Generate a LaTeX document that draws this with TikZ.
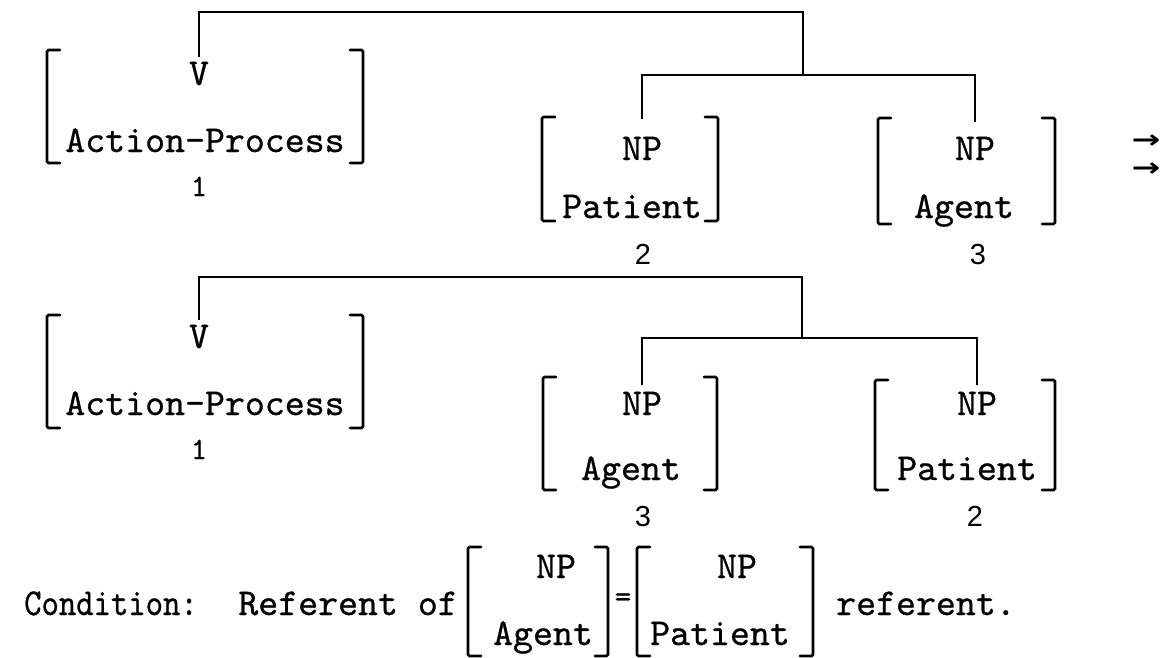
\documentclass[tikz,border=0pt]{standalone}
\usepackage{fontspec}
\newfontfamily\arrowfont{DejaVu Sans Bold}
\newfontfamily\numfont{Liberation Sans}
\newfontfamily\twfont{lmmono10-regular.otf}[FakeBold=0.7]
\newcommand\featbrackets[1]{%
  \draw[brk] ([xshift=13pt]#1.north west) -- (#1.north west) -- (#1.south west) -- ([xshift=13pt]#1.south west);
  \draw[brk] ([xshift=-13pt]#1.north east) -- (#1.north east) -- (#1.south east) -- ([xshift=-13pt]#1.south east);}
\begin{document}
\begin{tikzpicture}[x=1pt,y=-1pt,
  tt/.style={font=\twfont\fontsize{38}{42}\selectfont, inner sep=0pt, anchor=base},
  num/.style={font=\numfont\fontsize{29}{29}\selectfont, inner sep=0pt, anchor=base},
  one/.style={font=\twfont\fontsize{31}{31}\selectfont, inner sep=0pt, anchor=base},
  arrw/.style={font=\arrowfont\fontsize{30}{30}\selectfont, inner sep=0pt},
  box/.style={inner sep=0pt, outer sep=0pt, draw=none},
  brk/.style={line width=2.8pt, rounded corners=1.5pt, line cap=round},
  tree/.style={line width=2.8pt}]
\useasboundingbox (0,0) rectangle (1161,658);

% ---------- Row 1 ----------
\node[box, minimum width=316pt, minimum height=113pt] (b1) at (205,106.5) {};
\node[box, minimum width=176pt, minimum height=104pt] (b2) at (630,169) {};
\node[box, minimum width=177pt, minimum height=106pt] (b3) at (966.5,171) {};
\featbrackets{b1}\featbrackets{b2}\featbrackets{b3}

\node[tt] (v1) at (199,85) {V};
\node[tt] (ap1) at (205,152) {Action-Process};
\node[one] (one1) at (199,196) {1};
\node[tt] (np1) at (642,160) {NP};
\node[tt] (pat1) at (632,218) {Patient};
\node[num] (two1) at (643,264) {2};
\node[tt] (np2) at (975,160) {NP};
\node[tt] (ag1) at (964,218) {Agent};
\node[num] (three1) at (978,264) {3};

\coordinate (j1) at (803,12);
\coordinate (j2) at (803,75);
\draw[tree] ([yshift=5pt]v1.north) |- (j1) -- (j2);
\draw[tree] ([yshift=18pt]np1.north) |- (j2) -| ([yshift=15pt]np2.north);

\node[arrw] (arr1) at (1146,142) {\scalebox{1.15}[0.85]{→}};
\node[arrw] (arr2) at (1146,170) {\scalebox{1.15}[0.85]{→}};

% ---------- Row 2 ----------
\node[box, minimum width=316pt, minimum height=113pt] (b4) at (205,371.5) {};
\node[box, minimum width=174pt, minimum height=113pt] (b5) at (630,433.5) {};
\node[box, minimum width=180pt, minimum height=110pt] (b6) at (965,435) {};
\featbrackets{b4}\featbrackets{b5}\featbrackets{b6}

\node[tt] (v2) at (199,348) {V};
\node[tt] (ap2) at (205,415) {Action-Process};
\node[one] (one2) at (199,459) {1};
\node[tt] (np3) at (642,415) {NP};
\node[tt] (ag2) at (631,480) {Agent};
\node[num] (three2) at (643,526) {3};
\node[tt] (np4) at (977,415) {NP};
\node[tt] (pat2) at (967,480) {Patient};
\node[num] (two2) at (975,526) {2};

\coordinate (j3) at (802,277);
\coordinate (j4) at (802,338);
\draw[tree] ([yshift=5pt]v2.north) |- (j3) -- (j4);
\draw[tree] ([yshift=7pt]np3.north) |- (j4) -| ([yshift=7pt]np4.north);

% ---------- Condition ----------
\node[tt, anchor=base west] (cond) at (24,615) {\scalebox{0.87}[1]{Condition:}};
\node[tt, anchor=base east] (refof) at (458,615) {Referent of};
\node[box, minimum width=140pt, minimum height=109pt] (c1) at (538,601.5) {};
\node[box, minimum width=176pt, minimum height=109pt] (c2) at (725,601.5) {};
\featbrackets{c1}\featbrackets{c2}
\node[tt] (npc1) at (556,578) {NP};
\node[tt] (agc) at (543,645) {Agent};
\node[font=\twfont\fontsize{32}{32}\selectfont, inner sep=0pt] (eq) at (623,600) {=};
\node[tt] (npc2) at (737,578) {NP};
\node[tt] (patc) at (720,645) {Patient};
\node[tt, anchor=base west] (refd) at (836,615) {referent.};
\end{tikzpicture}
\end{document}
